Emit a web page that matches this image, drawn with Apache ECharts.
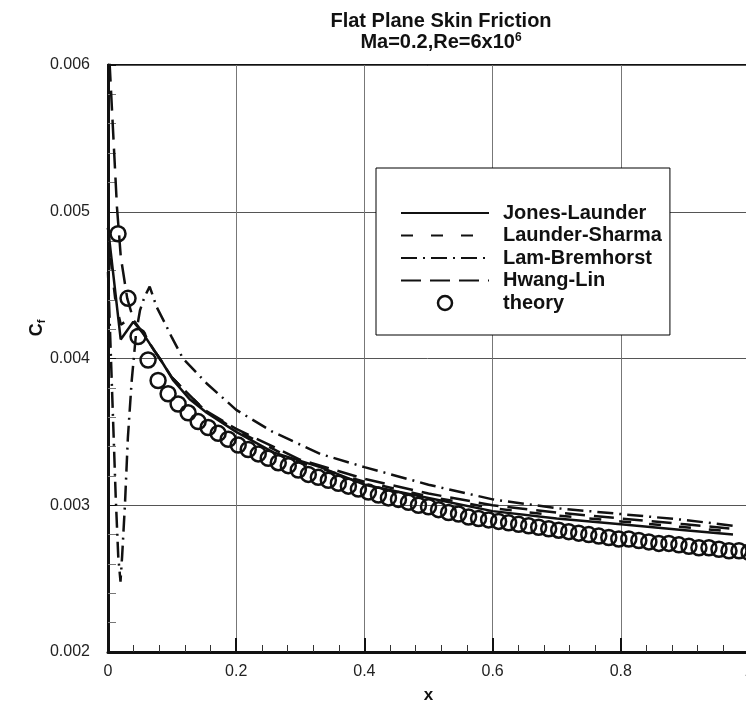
<!DOCTYPE html>
<html>
<head>
<meta charset="utf-8">
<script src="https://cdn.jsdelivr.net/npm/echarts@6/dist/echarts.min.js"></script>
<style>
  html, body { margin: 0; padding: 0; background: #fff; }
  #chart { width: 746px; height: 705px; }
</style>
</head>
<body>
<div id="chart"></div>
<script>
// Jones-Launder (solid)
var jlX = [0, 0.0198, 0.0395, 0.055, 0.071, 0.081, 0.102, 0.128, 0.154, 0.2, 0.258, 0.331, 0.4, 0.5, 0.6, 0.7, 0.8, 0.9, 0.975];
var jlY = [0.00489, 0.00413, 0.00425, 0.00417, 0.00406, 0.00400, 0.00385, 0.00372, 0.00363, 0.00350, 0.00336, 0.00326, 0.00314, 0.00305, 0.00296, 0.00291, 0.00287, 0.00283, 0.00280];
// Launder-Sharma (short dash)
var lsX = [0, 0.006, 0.012, 0.02, 0.03, 0.04, 0.055, 0.07, 0.1, 0.15, 0.2, 0.3, 0.4, 0.5, 0.6, 0.7, 0.8, 0.9, 0.975];
var lsY = [0.00489, 0.00460, 0.00438, 0.00423, 0.00426, 0.00424, 0.00418, 0.00407, 0.00387, 0.00365, 0.00351, 0.00329, 0.00316, 0.00306, 0.00298, 0.00293, 0.00289, 0.00285, 0.00282];
// Lam-Bremhorst (dash-dot)
var lbX = [0, 0.004, 0.008, 0.012, 0.016, 0.0195, 0.022, 0.0265, 0.031, 0.037, 0.044, 0.05, 0.057, 0.065, 0.076, 0.09, 0.1, 0.117, 0.154, 0.2, 0.257, 0.331, 0.4, 0.5, 0.6, 0.7, 0.8, 0.9, 0.975];
var lbY = [0.00459, 0.00408, 0.00357, 0.00306, 0.00265, 0.00248, 0.00265, 0.00301, 0.00346, 0.00385, 0.00418, 0.00433, 0.00442, 0.00449, 0.00435, 0.00423, 0.00414, 0.00400, 0.00383, 0.00365, 0.00350, 0.00335, 0.00326, 0.00314, 0.00304, 0.00298, 0.00294, 0.00290, 0.00286];
// Hwang-Lin (long dash)
var hlX = [0, 0.003, 0.014, 0.02, 0.03, 0.04, 0.055, 0.07, 0.1, 0.15, 0.2, 0.3, 0.4, 0.5, 0.6, 0.7, 0.8, 0.9, 0.975];
var hlY = [0.00622, 0.00597, 0.00503, 0.00469, 0.00441, 0.00426, 0.00417, 0.00407, 0.00387, 0.00365, 0.00352, 0.00331, 0.00318, 0.00308, 0.00300, 0.00295, 0.00291, 0.00287, 0.00284];
// theory (circles), x = k/64
var thY = [0.00485, 0.00441, 0.00415, 0.00399, 0.00385, 0.00376, 0.00369, 0.00363, 0.00357, 0.00353, 0.00349, 0.00345,
  0.00341, 0.00338, 0.00335, 0.00332, 0.00329, 0.00327, 0.00324, 0.00321, 0.00319, 0.00317, 0.00315, 0.00313,
  0.00311, 0.00309, 0.00307, 0.00305, 0.00304, 0.00302, 0.00300, 0.00299, 0.00297, 0.00295, 0.00294, 0.00292,
  0.00291, 0.00290, 0.00289, 0.00288, 0.00287, 0.00286, 0.00285, 0.00284, 0.00283, 0.00282, 0.00281, 0.00280,
  0.00279, 0.00278, 0.00277, 0.00277, 0.00276, 0.00275, 0.00274, 0.00274, 0.00273, 0.00272, 0.00271, 0.00271,
  0.00270, 0.00269, 0.00269, 0.00268];
var xTicks = ['0', '0.2', '0.4', '0.6', '0.8', '1'];
var yTicks = ['0.002', '0.003', '0.004', '0.005', '0.006'];

function pairs(xs, ys) {
    var out = [];
    for (let i = 0; i < ys.length; i++) out.push([xs[i], ys[i]]);
    return out;
}
var thX = [];
for (let k = 1; k <= thY.length; k++) thX.push(k / 64);

var font = '"Liberation Sans", Arial, sans-serif';
var ink = '#111';
var myChart = echarts.init(document.getElementById('chart'));

function lineSeries(name, xs, ys, type) {
    return {
        name: name,
        type: 'line',
        data: pairs(xs, ys),
        symbol: 'none',
        showSymbol: false,
        z: 3,
        itemStyle: { color: ink },
        lineStyle: { color: ink, width: 2.5, type: type }
    };
}

var option = {
    animation: false,
    backgroundColor: '#fff',
    title: {
        text: 'Flat Plane Skin Friction\n{a|Ma=0.2,Re=6x10}{b|6}',
        left: 436,
        top: 6,
        textAlign: 'center',
        textStyle: {
            fontFamily: font, fontSize: 20, fontWeight: 'bold', color: ink, lineHeight: 21,
            rich: {
                a: { fontFamily: font, fontSize: 20, fontWeight: 'bold', color: ink, lineHeight: 21 },
                b: { fontFamily: font, fontSize: 12, fontWeight: 'bold', color: ink, lineHeight: 14, verticalAlign: 'top' }
            }
        }
    },
    legend: {
        orient: 'vertical',
        left: 376,
        top: 168,
        padding: [35, 8, 22, 24],
        backgroundColor: '#fff',
        borderColor: '#000',
        borderWidth: 1,
        itemWidth: 88,
        itemHeight: 14,
        itemGap: 2.5,
        itemStyle: { opacity: 0 },
        textStyle: { fontFamily: font, fontSize: 20, fontWeight: 'bold', color: ink, lineHeight: 14, padding: [0, 0, 0, 9] },
        data: [
            'Jones-Launder', 'Launder-Sharma', 'Lam-Bremhorst', 'Hwang-Lin',
            { name: 'theory', icon: 'circle', itemStyle: { color: 'transparent', borderColor: ink, borderWidth: 2.5, opacity: 1 } }
        ]
    },
    graphic: [{
        type: 'text',
        x: 37,
        y: 328,
        rotation: Math.PI / 2,
        style: {
            text: '{c|C}{s|f}',
            align: 'center',
            verticalAlign: 'middle',
            rich: {
                c: { fontFamily: font, fontSize: 18, fontWeight: 'bold', fill: ink, lineHeight: 20 },
                s: { fontFamily: font, fontSize: 11, fontWeight: 'bold', fill: ink, lineHeight: 8, verticalAlign: 'bottom' }
            }
        }
    }],
    grid: {
        left: 108, top: 65, right: -3, bottom: 53,
        outerBoundsMode: 'none',
        containLabel: false,
        show: true, borderColor: ink, borderWidth: 2
    },
    xAxis: {
        type: 'value', min: 0, max: 1, interval: 0.2,
        name: 'x', nameLocation: 'middle', nameGap: 35,
        nameTextStyle: { fontFamily: font, fontSize: 17, fontWeight: 'bold', color: ink },
        axisLine: { lineStyle: { color: ink, width: 3 } },
        axisTick: { inside: true, length: 14, lineStyle: { color: ink, width: 2 } },
        minorTick: { show: true, splitNumber: 5, length: 7, lineStyle: { color: '#333', width: 1 } },
        splitLine: { show: true, lineStyle: { color: '#777', width: 1 } },
        axisLabel: {
            fontFamily: font, fontSize: 16, color: '#222', margin: 12,
            formatter: function (v) { return xTicks[Math.round(v / 0.2)]; }
        }
    },
    yAxis: {
        type: 'value', min: 0.002, max: 0.006, interval: 0.001,
        axisLine: { lineStyle: { color: ink, width: 3 } },
        axisTick: { inside: true, length: 8, lineStyle: { color: ink, width: 1 } },
        minorTick: { show: true, splitNumber: 5, length: 8, lineStyle: { color: '#777', width: 1 } },
        splitLine: { show: true, lineStyle: { color: '#555', width: 1 } },
        axisLabel: {
            fontFamily: font, fontSize: 16, color: '#222', margin: 18,
            formatter: function (v) { return yTicks[Math.round((v - 0.002) / 0.001)]; }
        }
    },
    series: [
        lineSeries('Jones-Launder', jlX, jlY, 'solid'),
        lineSeries('Launder-Sharma', lsX, lsY, [12, 18]),
        lineSeries('Lam-Bremhorst', lbX, lbY, [16, 6, 2, 6]),
        lineSeries('Hwang-Lin', hlX, hlY, [20, 9]),
        {
            name: 'theory',
            type: 'scatter',
            data: pairs(thX, thY),
            symbol: 'circle',
            symbolSize: 15,
            z: 4,
            itemStyle: { color: 'transparent', borderColor: ink, borderWidth: 2.5, opacity: 1 }
        }
    ]
};

myChart.setOption(option);
</script>
</body>
</html>
